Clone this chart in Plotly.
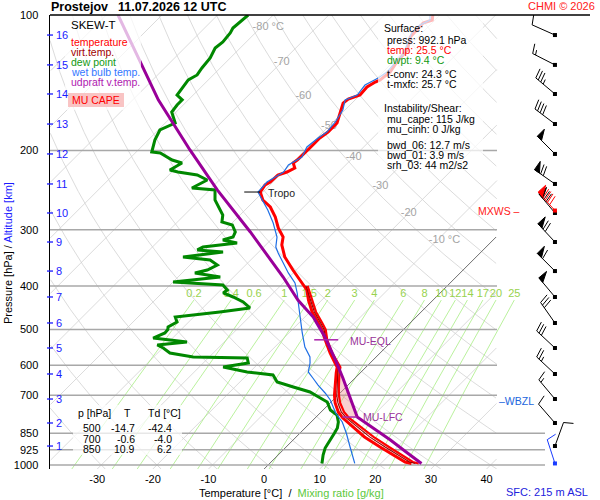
import numpy as np
import plotly.graph_objects as go

# ------------------------------------------------------------------ data
STATION = "Prostejov"
RUN_TIME = "11.07.2026 12 UTC"
COPYRIGHT = "CHMI © 2026"
SFC_ELEV = "SFC: 215 m ASL"

P_TICKS = [100, 200, 300, 400, 500, 600, 700, 850, 925, 1000]
T_TICKS = [-30, -20, -10, 0, 10, 20, 30, 40]
ISOBARS = [200, 300, 400, 500, 600, 700, 850, 925, 1000]
ISOBARS_LONG = [850, 925, 1000]
ISOTHERMS = list(range(-120, 50, 10))
DRY_ADIABATS = list(range(-40, 190, 10))          # potential temperature, degC
MIX_RATIOS = [0.2, 0.4, 0.6, 1, 1.5, 2, 3, 4, 6, 8, 10, 12, 14, 17, 20, 25]
MIX_LABELS = ["0.2", "0.4", "0.6", "1", "1.5", "2", "3", "4", "6", "8",
              "10", "12", "14", "17", "20", "25"]
MIX_TOP_P = 430.0
MIX_LABEL_P = 416.5
ISOTHERM_LABEL_T = [-80, -70, -60, -50, -40, -30, -20, -10]
ISOTHERM_LABEL_P = [106.3, 127.2, 151.4, 176.5, 206.8, 239.8, 275.6, 316.2]
ISOTHERM_LABEL_TXT = ["-80 °C", "-70", "-60", "-50", "-40", "-30", "-20", "-10 °C"]

ALT_KM = list(range(1, 17))
ALT_P = [907.5, 806.6, 713.5, 627.7, 549.5, 483.5, 423.3, 370.7,
         319.5, 275.4, 237.4, 203.6, 174.7, 149.8, 129.1, 110.8]

# environmental temperature
P_ENV = [100, 102.6, 104.2, 109.1, 111.9, 119.6, 127.2, 133.9, 139.4, 140.9,
         144.5, 150.6, 153.7, 156.9, 165.1, 173.8, 182.0, 187.7, 197.5, 204.7,
         210.0, 213.2, 218.8, 223.3, 226.7, 235.0, 238.6, 247.4, 257.7, 267.1,
         281.1, 297.3, 311.4, 324.4, 345.0, 368.7, 388.1, 408.4, 430.0, 457.1,
         483.5, 500.0, 527.5, 563.7, 593.4, 605.7, 624.5, 670.8, 700.0, 728.0,
         762.6, 786.4, 823.3, 850.0, 866.5, 912.0, 950.4, 984.8, 992.1]
T_ENV = [-51.3, -50.5, -51.6, -51.4, -51.4, -49.6, -49.3, -48.7, -49.1, -49.6,
         -50.2, -50.0, -51.4, -51.6, -50.4, -49.1, -49.1, -49.5, -49.5, -49.5,
         -49.6, -49.8, -48.6, -49.3, -50.4, -50.5, -50.9, -50.5, -48.6, -46.0,
         -43.3, -40.8, -38.3, -37.1, -34.4, -30.6, -27.5, -24.5, -22.4, -19.6,
         -16.5, -14.7, -12.2, -9.0, -6.3, -5.2, -4.3, -2.0, -0.6, 0.9,
         3.1, 5.0, 8.5, 10.9, 12.3, 16.9, 20.7, 24.1, 25.5]

# virtual temperature (dark red) and its red outline
P_TV = [400, 430, 457, 483.5, 500, 528, 564, 606, 625, 671, 700, 728, 762,
        786, 823, 850, 866, 912, 950, 985, 992.1]
T_TV = [-25.4, -22.0, -19.2, -16.1, -14.3, -12.0, -8.8, -4.9, -4.0, -1.6, -0.2,
        1.4, 3.6, 5.6, 9.2, 11.8, 13.2, 17.8, 21.5, 24.9, 26.2]
T_TV2 = [-25.1, -21.7, -18.9, -15.8, -14.0, -11.8, -8.6, -4.6, -3.7, -1.3, 0.2,
         1.8, 4.1, 6.1, 9.8, 12.5, 13.9, 18.5, 22.2, 25.5, 26.8]

# dew point
P_TD = [100, 103.7, 106.9, 109.6, 114.8, 118.4, 124.6, 131.1, 135.9, 139.4,
        145.3, 150.6, 154.4, 158.5, 164.3, 173.8, 180.1, 189.6, 201.6, 202.6,
        210.0, 213.2, 221.1, 223.3, 226.7, 232.6, 242.4, 244.8, 257.7, 271.3,
        278.3, 288.4, 292.8, 303.5, 311.4, 316.2, 321.1, 327.9, 332.7, 336.3,
        345.0, 350.3, 359.4, 368.7, 374.3, 382.2, 392.0, 398.1, 408.4, 414.7,
        423.3, 434.2, 447.8, 457.1, 464.2, 469.0, 481.1, 493.6, 500.0, 508.9,
        522.2, 533.0, 541.2, 549.5, 563.7, 575.4, 578.3, 593.4, 605.7, 621.3,
        631.0, 654.0, 670.8, 688.2, 700.0, 724.4, 754.6, 774.4, 802.5, 827.5,
        850.0, 880.0, 916.7, 950.4, 984.8, 992.1]
T_TD = [-84.5, -84.7, -84.9, -84.5, -84.2, -84.5, -83.6, -83.3, -82.9, -83.6,
        -83.3, -82.9, -81.1, -81.1, -80.8, -78.2, -79.7, -78.8, -77.2, -75.5,
        -72.1, -69.8, -70.7, -68.9, -64.9, -62.2, -63.5, -59.0, -57.2, -54.5,
        -53.1, -52.0, -49.6, -47.8, -47.3, -48.6, -45.5, -50.9, -51.4, -46.4,
        -52.7, -47.3, -45.1, -46.0, -47.7, -42.4, -50.0, -40.5, -38.8, -39.0,
        -36.5, -33.8, -31.5, -36.2, -41.0, -43.3, -42.1, -42.8, -42.4, -42.3,
        -43.5, -36.7, -41.5, -39.9, -37.8, -32.9, -23.0, -21.9, -25.7, -20.5,
        -15.3, -13.3, -9.5, -5.6, -4.0, -0.7, 1.3, 3.4, 4.9, 5.8,
        6.2, 6.7, 7.2, 8.1, 9.2, 9.4]

# wet bulb temperature
P_WB = [100, 102.6, 105.3, 109.1, 114.8, 122.7, 127.8, 133.9, 138.0, 143.1,
        150.6, 154.4, 162.6, 172.9, 182.0, 187.7, 196.5, 206.8, 215.4, 223.3,
        235.0, 247.4, 257.7, 271.3, 289.9, 311.4, 327.9, 338.1, 355.7, 374.3,
        394.0, 414.7, 436.5, 469.0, 508.9, 546.8, 575.4, 593.4, 621.3, 640.7,
        664.2, 691.8, 717.1, 742.0, 766.5, 802.5, 848.9, 912.0, 959.9, 992.1]
T_WB = [-51.8, -50.9, -51.8, -52.0, -50.9, -49.5, -49.5, -49.3, -49.8, -50.9,
        -50.5, -51.8, -50.4, -49.6, -49.3, -49.8, -50.2, -49.3, -50.3, -49.9,
        -51.1, -50.9, -48.7, -45.9, -42.6, -39.4, -37.8, -36.3, -33.6, -30.9,
        -27.9, -25.7, -23.7, -20.9, -17.6, -14.6, -11.9, -10.8, -9.5, -7.6,
        -5.4, -2.7, -0.5, 1.2, 2.8, 5.6, 8.3, 11.5, 13.8, 15.3]

# most-unstable parcel (virtual temperature)
P_PARCEL = [100.0, 129.2, 154.4, 199.5, 244.8, 303.5, 382.2, 430.0, 469.0,
            519.5, 584.0, 640.7, 706.3, 782.4, 836.0, 880.0, 940.5, 992.1]
T_PARCEL = [-107.9, -94.6, -85.4, -70.7, -58.6, -45.1, -31.1, -24.3, -18.5,
            -12.8, -6.8, -2.2, 2.5, 7.4, 13.1, 17.5, 22.9, 27.3]

LFC_P = 782.4
EQL_P = 527.0
TROPO_P = 247.4
FRZL_P = 712.0
WBZL_P = 722.0
MXWS_P = 272.0

# winds at 1..16 km and surface
WIND_DIR = [20, 319, 320, 313, 313, 325, 320, 315, 317, 320, 305, 315, 307, 310, 297, 294]
WIND_SPD = [10, 10, 15, 25, 30, 30, 50, 60, 70, 70, 70, 50, 40, 35, 15, 10]
SFC_P = 992.1
SFC_WDIR, SFC_WSPD = 342, 10
MXWS_WDIR, MXWS_WSPD = 318, 90

TABLE_HEAD = ["p [hPa]", "T", "Td [°C]"]
TABLE_P = ["500", "700", "850"]
TABLE_T = ["-14.7", "-0.6", "10.9"]
TABLE_TD = ["-42.4", "-4.0", "6.2"]

SURF_TEXT = ["Surface:", "press: 992.1 hPa", "temp: 25.5 °C", "dwpt: 9.4 °C",
             "t-conv: 24.3 °C", "t-mxfc: 25.7 °C", "Instability/Shear:",
             "mu_cape: 115 J/kg", "mu_cinh: 0 J/kg", "bwd_06: 12.7 m/s",
             "bwd_01: 3.9 m/s", "srh_03: 44 m2/s2"]
LEGEND_TEXT = ["SKEW-T", "temperature", "virt.temp.", "dew point",
               "wet bulb temp.", "udpraft v.temp."]

# ------------------------------------------------------------------ layout / styles
FONT = "Liberation Sans, Arial, sans-serif"
W, H = 600, 500
PL, PR, PT, PB = 50, 590, 15, 469  # plot area in pixels
MARGIN = dict(l=PL, r=W - PR, t=PT, b=H - PB, pad=0)
PW, PH = PR - PL, PB - PT
P_TOP, P_BOT = 100.0, 1020.7
X_MIN, X_MAX = -38.5, 58.6
SX = PW / (X_MAX - X_MIN)
SY = PH / np.log10(P_BOT / P_TOP)
K = SY / SX
BARB_X = 52.3

C_T, C_TV, C_TD, C_WB, C_PAR = "#ff0000", "#990000", "#008800", "#1f6fe5", "#990099"
C_ALT = "#1a1aff"


def skx(T, p):
    return np.asarray(T, float) + K * np.log10(P_BOT / np.asarray(p, float))


def to_px(X, p):
    return PL + (X - X_MIN) * SX, PT + SY * np.log10(p / P_TOP)


def from_px(px, py):
    return X_MIN + (px - PL) / SX, P_TOP * 10 ** ((py - PT) / SY)


def td_from_w(w, p):
    e = w * p / (622.0 + w)
    lg = np.log(e / 6.112)
    return 243.5 * lg / (17.67 - lg)


def interp_logp(p_new, p, v):
    p = np.asarray(p, float); v = np.asarray(v, float)
    o = np.argsort(p)
    return np.interp(np.log(p_new), np.log(p[o]), v[o])


XGRID_R = from_px(497, 0)[0]
XISO_LONG = from_px(545, 0)[0]

fig = go.Figure()


def add_lines(xs, ys, color, width, **kw):
    fig.add_trace(go.Scatter(x=xs, y=ys, mode="lines", hoverinfo="skip",
                             line=dict(color=color, width=width), **kw))


def joined(curves):
    xs, ys = [], []
    for X, P in curves:
        xs += list(X) + [None]
        ys += list(P) + [None]
    return xs, ys


p_grid = np.logspace(np.log10(P_TOP), np.log10(P_BOT), 500)

# isotherms
curves = []
for T in ISOTHERMS:
    if T == 0:
        continue
    X = skx(np.full_like(p_grid, T), p_grid)
    X[(X < X_MIN) | (X > XGRID_R)] = np.nan
    curves.append((X, p_grid))
add_lines(*joined(curves), color="#d2d2d2", width=0.8)

# dry adiabats
curves = []
for th in DRY_ADIABATS:
    T = (th + 273.15) * (p_grid / 1000.0) ** 0.2857 - 273.15
    X = skx(T, p_grid)
    X[(X < X_MIN) | (X > XGRID_R)] = np.nan
    curves.append((X, p_grid))
add_lines(*joined(curves), color="#d2d2d2", width=0.8)

# mixing ratio lines
p_mix = np.logspace(np.log10(MIX_TOP_P), np.log10(P_BOT), 120)
curves = []
for w in MIX_RATIOS:
    X = skx(td_from_w(w, p_mix), p_mix)
    X[X < X_MIN] = np.nan
    curves.append((X, p_mix))
add_lines(*joined(curves), color="#a8ee84", width=0.8)

# 0 degC isotherm
X0 = skx(np.zeros_like(p_grid), p_grid)
X0[(X0 < X_MIN) | (X0 > XGRID_R)] = np.nan
add_lines(X0, p_grid, color="#6e6e6e", width=1)

# isobars
curves = []
for p in ISOBARS:
    xr = XISO_LONG if p in ISOBARS_LONG else XGRID_R
    curves.append(([X_MIN, xr], [p, p]))
add_lines(*joined(curves), color="#a8a8a8", width=1.5)

# grid labels (under the profiles)
mx = [float(skx(td_from_w(w, MIX_TOP_P), MIX_TOP_P)) for w in MIX_RATIOS]
fig.add_trace(go.Scatter(x=mx, y=[MIX_LABEL_P] * len(mx), mode="text", text=MIX_LABELS,
                         textposition="middle center", hoverinfo="skip",
                         textfont=dict(color="#98d24e", size=11, family=FONT)))
ix = []
for T, p, s in zip(ISOTHERM_LABEL_T, ISOTHERM_LABEL_P, ISOTHERM_LABEL_TXT):
    shift = 7.0 if "°C" in s else 0.0
    ix.append(float(skx(T, p)) + shift / SX)
fig.add_trace(go.Scatter(x=ix, y=ISOTHERM_LABEL_P, mode="text", text=ISOTHERM_LABEL_TXT,
                         textposition="middle center", hoverinfo="skip",
                         textfont=dict(color="#a4a4a4", size=11, family=FONT)))

# CAPE area between parcel and virtual temperature
pc = np.logspace(np.log10(EQL_P), np.log10(LFC_P), 60)
xp = skx(interp_logp(pc, P_PARCEL, T_PARCEL), pc)
xe = skx(interp_logp(pc, P_TV, T_TV), pc)
fig.add_trace(go.Scatter(x=list(xp) + list(xe[::-1]), y=list(pc) + list(pc[::-1]),
                         mode="lines", fill="toself", fillcolor="rgba(240,140,140,0.40)",
                         line=dict(width=0), hoverinfo="skip"))

# profiles
add_lines(skx(T_TD, P_TD), P_TD, C_TD, 3)
add_lines(skx(T_ENV, P_ENV), P_ENV, C_T, 3)
add_lines(skx(T_TV2, P_TV), P_TV, C_T, 2.2)
add_lines(skx(T_TV, P_TV), P_TV, C_TV, 1.1)
add_lines(skx(T_WB, P_WB), P_WB, C_WB, 1.2)
add_lines(skx(T_PARCEL, P_PARCEL), P_PARCEL, C_PAR, 3)

# LFC / EQL / tropopause markers
x_lfc_p = float(skx(interp_logp([LFC_P], P_PARCEL, T_PARCEL), LFC_P)[0])
x_lfc_e = float(skx(interp_logp([LFC_P], P_ENV, T_ENV), LFC_P)[0])
add_lines([x_lfc_e, x_lfc_p], [LFC_P, LFC_P], "#aa22aa", 1.5)
x_eql = float(skx(interp_logp([EQL_P], P_PARCEL, T_PARCEL), EQL_P)[0])
add_lines([x_eql - 12 / SX, x_eql + 12 / SX], [EQL_P, EQL_P], "#aa22aa", 1.5)
x_tro = float(skx(interp_logp([TROPO_P], P_ENV, T_ENV), TROPO_P)[0])
add_lines([x_tro - 16 / SX, x_tro], [TROPO_P, TROPO_P], "black", 1)


# wind barbs
def barb(p, wdir, wspd, L=25.0, flen=10.0, gap=3.2, ang=15.0):
    x0, y0 = to_px(BARB_X, p)
    d = np.radians(wdir)
    u = np.array([np.sin(d), -np.cos(d)])
    n = np.array([-u[1], u[0]])
    a = np.radians(ang)
    f = n * np.cos(a) + u * np.sin(a)
    b0 = np.array([x0, y0])
    segs = [[b0, b0 + u * L]]
    tris = []
    s = L
    r = wspd
    npen = int(r // 50); r -= 50 * npen
    nful = int(r // 10); r -= 10 * nful
    nhal = 1 if r >= 5 else 0
    for _ in range(npen):
        b1 = b0 + u * s
        b2 = b0 + u * (s - 6)
        tris.append([b1, b1 + n * flen, b2])
        s -= 7.5
    if npen == 0 and nful == 0 and nhal:
        s -= gap
    for _ in range(nful):
        b = b0 + u * s
        segs.append([b, b + f * flen])
        s -= gap
    for _ in range(nhal):
        b = b0 + u * s
        segs.append([b, b + f * flen * 0.5])
    return (BARB_X, p), segs, tris


def add_barbs(levels, color):
    lx, ly, tx, ty, dx, dy = [], [], [], [], [], []
    for p, wd, ws in levels:
        dot, segs, tris = barb(p, wd, ws)
        dx.append(dot[0]); dy.append(dot[1])
        for sg in segs:
            for pt in sg:
                X, P = from_px(*pt)
                lx.append(X); ly.append(P)
            lx.append(None); ly.append(None)
        for tr in tris:
            for pt in tr + [tr[0]]:
                X, P = from_px(*pt)
                tx.append(X); ty.append(P)
            tx.append(None); ty.append(None)
    add_lines(lx, ly, color, 1)
    if tx:
        fig.add_trace(go.Scatter(x=tx, y=ty, mode="lines", fill="toself", fillcolor=color,
                                 line=dict(color=color, width=1), hoverinfo="skip"))
    fig.add_trace(go.Scatter(x=dx, y=dy, mode="markers", hoverinfo="skip",
                             marker=dict(symbol="square", size=4, color=color)))


add_barbs(list(zip(ALT_P, WIND_DIR, WIND_SPD)), "black")
add_barbs([(MXWS_P, MXWS_WDIR, MXWS_WSPD)], "#ff0000")
add_barbs([(SFC_P, SFC_WDIR, SFC_WSPD)], "#1a3cff")

# ------------------------------------------------------------------ boxes / shapes


def pap(px, py):
    return (px - PL) / PW, (PB - py) / PH


def rect_px(x0, y0, x1, y1, fill):
    a, b = pap(x0, y0)
    c, d = pap(x1, y1)
    fig.add_shape(type="rect", xref="paper", yref="paper", x0=a, y0=b, x1=c, y1=d,
                  fillcolor=fill, line=dict(width=0), layer="above")


WHITE_VEIL = "rgba(255,255,255,0.72)"
rect_px(65, 15, 141, 110, WHITE_VEIL)     # legend
rect_px(378, 15, 483, 170, WHITE_VEIL)    # surface info
rect_px(73, 405, 182, 455, WHITE_VEIL)    # table
rect_px(68, 93, 124, 107, "#f9c4c4")      # MU CAPE key

# top frame line
fig.add_shape(type="line", xref="paper", yref="paper", x0=0, x1=1, y0=1, y1=1,
              line=dict(color="black", width=1.5), layer="above")

# altitude ticks
for km, p in zip(ALT_KM, ALT_P):
    _, py = to_px(0, p)
    a, b = pap(47, py)
    c, _ = pap(53, py)
    fig.add_shape(type="line", xref="paper", yref="paper", x0=a, x1=c, y0=b, y1=b,
                  line=dict(color=C_ALT, width=1.3), layer="above")


def ann(px, py, text, color="black", size=11, xanchor="left", yanchor="middle", **kw):
    x, y = pap(px, py)
    fig.add_annotation(x=x, y=y, xref="paper", yref="paper", text=text, showarrow=False,
                       font=dict(color=color, size=size, family=FONT),
                       xanchor=xanchor, yanchor=yanchor, **kw)


for km, p in zip(ALT_KM, ALT_P):
    _, py = to_px(0, p)
    ann(54, py, str(km), C_ALT)

# titles
ann(49, 7, "<b>%s</b>" % STATION, size=12.5)
ann(116, 7, "<b>%s</b>" % RUN_TIME, size=12.5)
ann(597, 6, COPYRIGHT, "#ff2020", xanchor="right")
ann(197, 493, "Temperature [°C]  /  <span style='color:#5cc83c'>Mixing ratio [g/kg]</span>")
ann(8, 253, "Pressure [hPa] / <span style='color:%s'>Altitude [km]</span>" % C_ALT,
    xanchor="center", textangle=-90)
ann(590, 492, SFC_ELEV, "#2222dd", xanchor="right")

# legend
leg_col = ["black", C_T, "#a00000", "#129a12", "#3377ff", "#b020b0"]
leg_y = [25, 42, 52, 62, 72, 82]
for t, c, y in zip(LEGEND_TEXT, leg_col, leg_y):
    ann(69, y, t, c, size=11.5 if t == "SKEW-T" else 10.5)
ann(96, 100, "MU CAPE", "#ff0000", size=10.5, xanchor="center")

# surface info
surf_col = ["black", "black", "#ff0000", "#119911"] + ["black"] * 8
surf_y = [28, 40, 50, 60, 74, 84, 108, 119, 129, 145, 155, 165]
surf_x = [382, 385, 385, 385, 385, 385, 382, 385, 385, 385, 385, 385]
for t, c, y, x in zip(SURF_TEXT, surf_col, surf_y, surf_x):
    ann(x, y, t, c, size=10.5)

# table
ann(76, 413, TABLE_HEAD[0], size=10.5)
ann(127, 413, TABLE_HEAD[1], size=10.5, xanchor="center")
ann(146, 413, TABLE_HEAD[2], size=10.5)
for i, (a, b, c) in enumerate(zip(TABLE_P, TABLE_T, TABLE_TD)):
    y = 428 + 10.5 * i
    ann(103, y, a, size=10.5, xanchor="right")
    ann(137, y, b, size=10.5, xanchor="right")
    ann(174, y, c, size=10.5, xanchor="right")

# level labels
lx, ly = to_px(x_lfc_p, LFC_P)
ann(lx + 4, ly, "MU-LFC", "#993399", size=10.5)
ex, ey = to_px(x_eql, EQL_P)
ann(ex + 22, ey + 1, "MU-EQL", "#993399", size=10.5)
tx_, ty_ = to_px(x_tro, TROPO_P)
ann(tx_ + 6, ty_ + 1, "Tropo", "#222222", size=10.5)
_, my = to_px(0, MXWS_P)
ann(522, my, "MXWS –", "#ff2020", size=10.5, xanchor="right")
_, fy = to_px(0, FRZL_P)
ann(497, fy, "–FRZL", "#ff2020", size=10.5)
_, wy = to_px(0, WBZL_P)
ann(497, wy, "–WBZL", "#2266dd", size=10.5, bgcolor="white")

# ------------------------------------------------------------------ axes
fig.update_layout(
    width=W, height=H, autosize=False,
    margin=MARGIN,
    paper_bgcolor="white", plot_bgcolor="white",
    showlegend=False,
    font=dict(family=FONT, size=11, color="black"),
    xaxis=dict(range=[X_MIN, X_MAX], tickvals=T_TICKS, ticktext=[str(t) for t in T_TICKS],
               showgrid=False, zeroline=False, showline=False, ticks="",
               ticklabelstandoff=2, tickfont=dict(size=11, family=FONT)),
    yaxis=dict(type="log", range=[np.log10(P_BOT), np.log10(P_TOP)],
               tickvals=P_TICKS, ticktext=[str(p) for p in P_TICKS],
               showgrid=False, zeroline=False, showline=True, linecolor="black",
               linewidth=1.5, ticks="", ticklabelstandoff=8,
               tickfont=dict(size=11, family=FONT)),
)

# the page's default 8 px body margin would push the 600x500 figure off the window
fig.write_html("out.html",
               config={"displayModeBar": False, "staticPlot": True},
               post_script="document.body.style.margin='0px';"
                           "document.body.style.overflow='hidden';")
